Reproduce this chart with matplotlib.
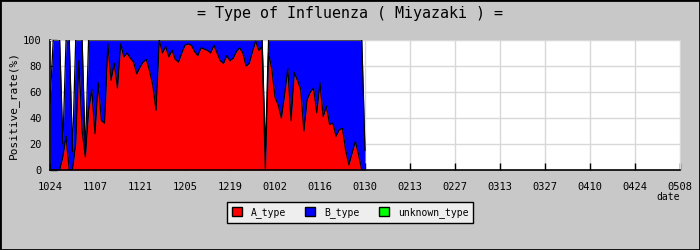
import numpy as np
import matplotlib
matplotlib.use('Agg')
import matplotlib.pyplot as plt
from matplotlib.patches import Patch

# days since 10/24, one value per day
a_type = [0, 0, 0, 0, 10, 26, 0, 0, 20, 84, 30, 10, 45, 62, 28, 67, 38, 36, 97, 69,
          82, 63, 97, 87, 90, 86, 83, 74, 79, 83, 85, 76, 65, 46, 100, 90, 95, 87, 92, 85,
          83, 90, 96, 97, 96, 91, 88, 94, 93, 92, 90, 96, 90, 84, 82, 88, 84, 86, 91, 94,
          90, 80, 82, 91, 99, 92, 95, 0, 90, 78, 56, 50, 40, 58, 78, 38, 75, 69, 62, 30,
          54, 60, 63, 44, 67, 41, 49, 35, 36, 26, 31, 32, 15, 4, 13, 22, 12, 0, 0]
total = [100] * 99
for d, v in [(0, 51), (4, 20), (7, 14), (11, 12), (67, 15), (98, 15)]:
    total[d] = v
unknown_type = [0] * 99

tick_labels = ['1024', '1107', '1121', '1205', '1219', '0102', '0116', '0130',
               '0213', '0227', '0313', '0327', '0410', '0424', '0508']

plt.rcParams['font.family'] = 'DejaVu Sans Mono'
plt.rcParams['font.size'] = 7

days = np.arange(len(a_type))
a = np.array(a_type)
tot = np.array(total)

fig = plt.figure(figsize=(7, 2.5), dpi=100, facecolor='#c8c8c8')
ax = fig.add_axes([50/700, 1-170/250, 630/700, 130/250])
ax.set_facecolor('white')

ax.fill_between(days, 0, a, color='#ff0000', lw=0, zorder=2)
ax.fill_between(days, a, tot, color='#0000ff', lw=0, zorder=2)
ax.plot(days, a, color='black', lw=0.9, zorder=3)
ax.plot(days, tot, color='black', lw=0.9, zorder=3)

ax.set_xlim(0, 196)
ax.set_ylim(0, 100)
ax.set_xticks(np.arange(0, 197, 14))
ax.set_xticklabels(tick_labels)
ax.set_yticks(np.arange(0, 101, 20))
ax.tick_params(direction='in', length=5, width=1, color='black', labelsize=7.5)
ax.tick_params(axis='x', pad=9)
ax.tick_params(axis='y', pad=6)
ax.grid(True, color='#d8d8d8', lw=1, zorder=0)
ax.set_axisbelow(True)
for s in ['top', 'right']:
    ax.spines[s].set_color('#d8d8d8')
for s in ['left', 'bottom']:
    ax.spines[s].set_color('black')
    ax.spines[s].set_linewidth(1.2)
ax.set_ylabel('Positive_rate(%)', fontsize=8)
ax.yaxis.set_label_coords(-31.5/630, 0.5)
ax.text(1.0, -27/130, 'date', transform=ax.transAxes, ha='right', va='center')

fig.text(0.5, 0.946, '= Type of Influenza ( Miyazaki ) =', ha='center', va='center',
         fontsize=10.8)

handles = [Patch(facecolor='#ff0000', edgecolor='black', label='A_type'),
           Patch(facecolor='#0000ff', edgecolor='black', label='B_type'),
           Patch(facecolor='#00ff00', edgecolor='black', label='unknown_type')]
leg = fig.legend(handles=handles, loc='center', bbox_to_anchor=(0.5, 1-212.5/250), ncol=3,
                 frameon=True, fancybox=False, facecolor='#eeeeee', edgecolor='black',
                 handlelength=1.05, handleheight=1.05, columnspacing=2.0, handletextpad=0.9,
                 borderpad=0.5, fontsize=7)
leg.get_frame().set_linewidth(1)
leg.get_frame().set_alpha(1)

border = plt.Rectangle((0, 0), 1, 1, transform=fig.transFigure, fill=False,
                       edgecolor='black', lw=2)
fig.patches.append(border)

fig.savefig('out.png', dpi=100, facecolor=fig.get_facecolor())
